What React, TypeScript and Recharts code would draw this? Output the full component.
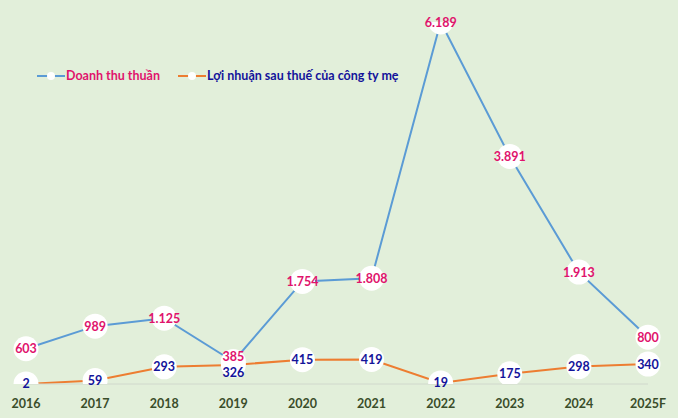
import { LineChart, Line, XAxis, YAxis, LabelList } from "recharts";

const years = ["2016", "2017", "2018", "2019", "2020", "2021", "2022", "2023", "2024", "2025F"];
const revenue = [603, 989, 1125, 385, 1754, 1808, 6189, 3891, 1913, 800];
const profit = [2, 59, 293, 326, 415, 419, 19, 175, 298, 340];

const revenueName = "Doanh thu thuần";
const profitName = "Lợi nhuận sau thuế của công ty mẹ";

const BLUE = "#5b9bd5";
const ORANGE = "#ed7d31";
const PINK = "#e0136c";
const NAVY = "#13139a";
const FONT = "Lato, 'Open Sans', sans-serif";

const data = years.map((year, i) => ({ year, revenue: revenue[i], profit: profit[i] }));

function fmt(v: number): string {
  return String(v).replace(/\B(?=(\d{3})+(?!\d))/g, ".");
}

// nudges for the crowded 2019 pair
const revenueDy: Record<number, number> = { 3: -5 };
const profitDy: Record<number, number> = { 3: 8 };

function makeLabel(color: string, nudge: Record<number, number>) {
  return (props: any) => {
    const { x, y, value, index } = props;
    const dy = nudge[index] ?? 0;
    return (
      <text
        x={x}
        y={y + dy}
        dy={4.5}
        textAnchor="middle"
        fill={color}
        fontSize={12.5}
        fontWeight={700}
        fontFamily={FONT}
      >
        {fmt(value)}
      </text>
    );
  };
}

function LegendBox() {
  const item = (color: string, text: string, textColor: string, gap: number) => (
    <div style={{ display: "flex", alignItems: "center", marginRight: gap }}>
      <svg width={28} height={10}>
        <line x1={0} y1={5} x2={28} y2={5} stroke={color} strokeWidth={2} />
        <circle cx={14} cy={5} r={4} fill="#ffffff" />
      </svg>
      <span style={{ color: textColor, fontWeight: 700, fontSize: 12.5, fontFamily: FONT, marginLeft: 1 }}>
        {text}
      </span>
    </div>
  );
  return (
    <div style={{ position: "absolute", top: 68, left: 37, display: "flex", alignItems: "center" }}>
      {item(BLUE, revenueName, PINK, 18)}
      {item(ORANGE, profitName, NAVY, 0)}
    </div>
  );
}

export default function App() {
  return (
    <div style={{ position: "absolute", left: 0, top: 0, width: 678, height: 418, background: "#e2efda" }}>
      <LineChart
        width={678}
        height={418}
        data={data}
        margin={{ top: 22, right: 30, left: 26, bottom: 14 }}
      >
        <XAxis
          dataKey="year"
          height={20}
          axisLine={{ stroke: "#d0d8cc" }}
          tickLine={false}
          tick={{ fill: "#3a4d2a", fontSize: 12.5, fontWeight: 700, fontFamily: FONT, dy: 7 }}
          interval={0}
        />
        <YAxis hide domain={[0, 6189]} allowDataOverflow />
        <Line
          dataKey="revenue"
          name={revenueName}
          stroke={BLUE}
          strokeWidth={2}
          dot={{ r: 12.5, fill: "#ffffff", stroke: "none" }}
          activeDot={false}
          isAnimationActive={false}
        >
          <LabelList dataKey="revenue" content={makeLabel(PINK, revenueDy)} />
        </Line>
        <Line
          dataKey="profit"
          name={profitName}
          stroke={ORANGE}
          strokeWidth={2}
          dot={{ r: 12.5, fill: "#ffffff", stroke: "none" }}
          activeDot={false}
          isAnimationActive={false}
        >
          <LabelList dataKey="profit" content={makeLabel(NAVY, profitDy)} />
        </Line>
      </LineChart>
      <LegendBox />
    </div>
  );
}
